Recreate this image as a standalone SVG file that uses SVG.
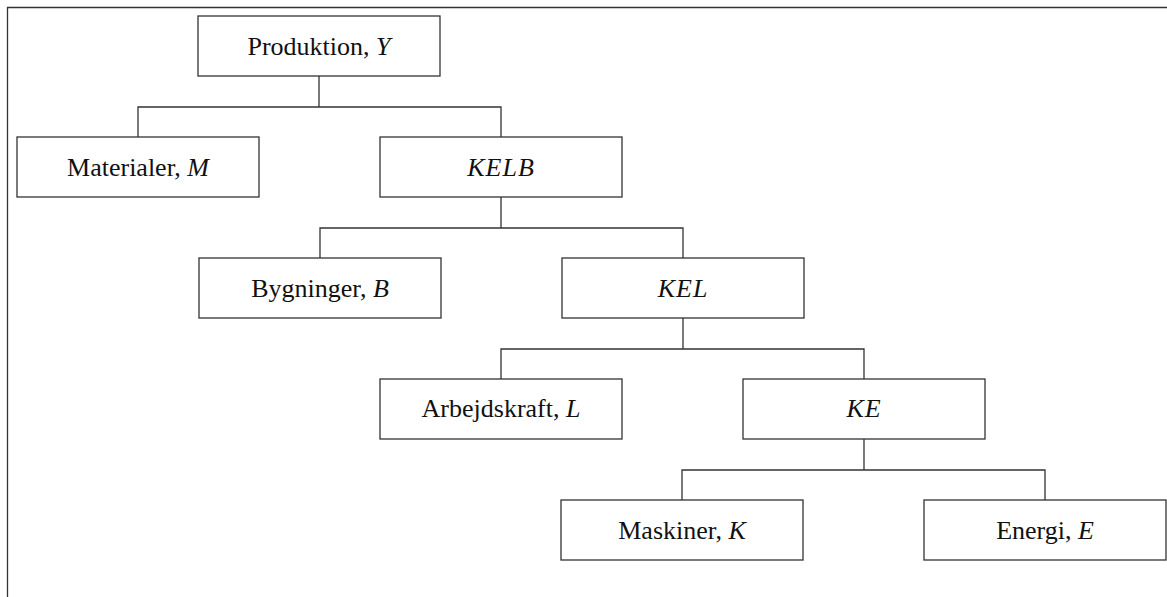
<svg xmlns="http://www.w3.org/2000/svg" width="1167" height="597" viewBox="0 0 1167 597">
<style>
rect.n{fill:#fff;stroke:#333;stroke-width:1.3}
text{font-family:"Liberation Serif","Times New Roman",serif;font-size:26px;fill:#111;text-anchor:middle}
.i{font-style:italic}
.m{font-style:italic;letter-spacing:1px}
#connectors path, #frame path{fill:none;stroke:#333;stroke-width:1.3}
</style>
<rect width="1167" height="597" fill="#fff"/>
<g id="frame"><path d="M7.5,597 V7.5 H1167"/></g>
<g id="connectors">
<path d="M319,76 V107 M138,137 V107 H501 V137"/>
<path d="M501,197 V228 M320,258 V228 H683 V258"/>
<path d="M683,318 V349 M501,379 V349 H864 V379"/>
<path d="M864,439 V470 M682,500 V470 H1045 V500"/>
</g>
<g id="produktion"><rect class="n" x="198" y="16" width="242" height="60"/><text x="319" y="55">Produktion, <tspan class="i">Y</tspan></text></g>
<g id="materialer"><rect class="n" x="17" y="137" width="242" height="60"/><text x="138" y="176">Materialer, <tspan class="i">M</tspan></text></g>
<g id="kelb"><rect class="n" x="380" y="137" width="242" height="60"/><text class="m" x="501" y="176">KELB</text></g>
<g id="bygninger"><rect class="n" x="199" y="258" width="242" height="60"/><text x="320" y="297">Bygninger, <tspan class="i">B</tspan></text></g>
<g id="kel"><rect class="n" x="562" y="258" width="242" height="60"/><text class="m" x="683" y="297">KEL</text></g>
<g id="arbejdskraft"><rect class="n" x="380" y="379" width="242" height="60"/><text x="501" y="417">Arbejdskraft, <tspan class="i">L</tspan></text></g>
<g id="ke"><rect class="n" x="743" y="379" width="242" height="60"/><text class="m" x="864" y="417">KE</text></g>
<g id="maskiner"><rect class="n" x="561" y="500" width="242" height="60"/><text x="682" y="539">Maskiner, <tspan class="i">K</tspan></text></g>
<g id="energi"><rect class="n" x="924" y="500" width="242" height="60"/><text x="1045" y="539">Energi, <tspan class="i">E</tspan></text></g>
</svg>
